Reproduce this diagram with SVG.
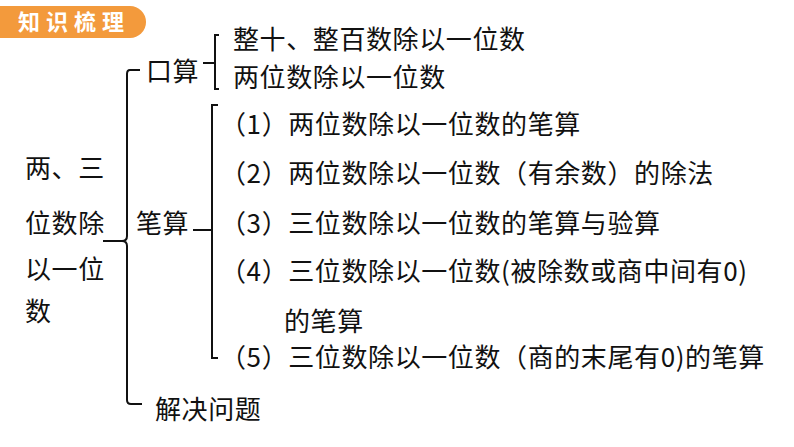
<svg xmlns="http://www.w3.org/2000/svg" width="794" height="447" viewBox="0 0 794 447">
<style>
text{font-family:"Noto Sans CJK SC","Liberation Serif",serif;font-size:26px;letter-spacing:0.6px;fill:#111}
.h{font-family:"Noto Sans CJK SC",sans-serif;font-size:22px;font-weight:bold;fill:#fff;letter-spacing:6px}
.b{fill:none;stroke:#111;stroke-width:2}
</style>
<rect width="794" height="447" fill="#fff"/>
<g id="header"><path d="M0 6 H130 A16 16 0 0 1 130 38 H0 Z" fill="#f39a3c"/><text class="h" x="18" y="30">知识梳理</text></g>
<g id="connectors">
<path class="b" d="M140 70 H130 Q127 70 127 74 V236 Q127 241 122 241 H103 M122 241 Q127 241 127 246 V400 Q127 404 131 404 H142"/>
<path class="b" d="M219 35 H215 V89 H219 M215 63 H203"/>
<path class="b" d="M218 105 H212 V358 H218 M212 230 H193"/>
</g>
<g id="root"><text x="25" y="178">两、三</text><text x="25" y="233">位数除</text><text x="25" y="279">以一位</text><text x="25" y="321">数</text></g>
<g id="kousuan"><text x="146" y="81">口算</text></g>
<g id="k1"><text x="233" y="49">整十、整百数除以一位数</text></g>
<g id="k2"><text x="233" y="87">两位数除以一位数</text></g>
<g id="bisuan"><text x="136" y="233">笔算</text></g>
<g id="b1"><text x="220" y="134">（1）两位数除以一位数的笔算</text></g>
<g id="b2"><text x="220" y="183">（2）两位数除以一位数（有余数）的除法</text></g>
<g id="b3"><text x="220" y="233">（3）三位数除以一位数的笔算与验算</text></g>
<g id="b4"><text x="220" y="281">（4）三位数除以一位数(被除数或商中间有0)</text><text x="284" y="331">的笔算</text></g>
<g id="b5"><text x="220" y="367">（5）三位数除以一位数（商的末尾有0)的笔算</text></g>
<g id="jiejue"><text x="155" y="419">解决问题</text></g>
</svg>
